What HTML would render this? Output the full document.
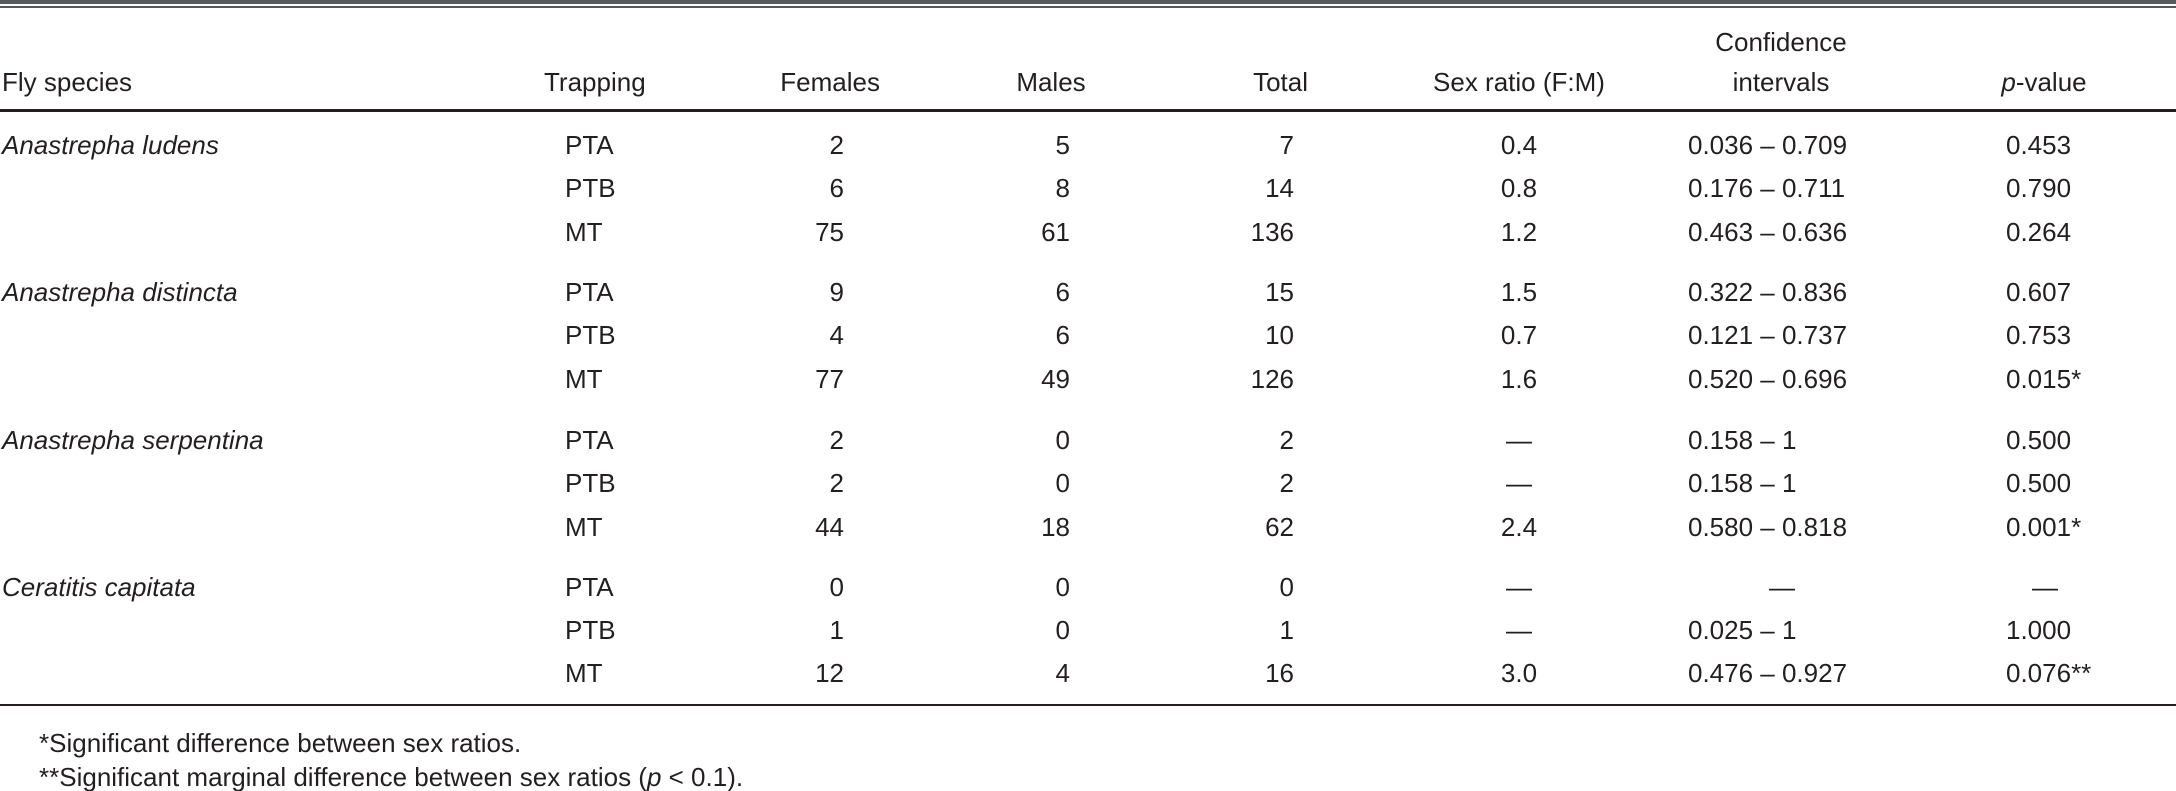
<!DOCTYPE html>
<html><head><meta charset="utf-8">
<style>
html,body{margin:0;padding:0;background:#fff;}
#t{position:relative;width:2176px;height:791px;overflow:hidden;font-family:"Liberation Sans",sans-serif;font-size:26px;color:#231f20;}
.c{position:absolute;line-height:30px;height:30px;white-space:nowrap;}
.line{position:absolute;left:0;width:2176px;}
i{font-style:italic;}
</style></head>
<body>
<div id="t">
  <div class="line" style="top:0;height:4px;background:#58595b;"></div>
  <div class="line" style="top:6px;height:2px;background:#58595b;"></div>
  <div class="line" style="top:109px;height:3px;background:#231f20;"></div>
  <div class="line" style="top:704px;height:2px;background:#231f20;"></div>

  <div class="c" style="left:2px;top:67px;">Fly species</div>
  <div class="c" style="left:544px;top:67px;">Trapping</div>
  <div class="c" style="right:1296px;top:67px;">Females</div>
  <div class="c" style="left:951px;width:200px;text-align:center;top:67px;">Males</div>
  <div class="c" style="right:868px;top:67px;">Total</div>
  <div class="c" style="left:1369px;width:300px;text-align:center;top:67px;">Sex ratio (F:M)</div>
  <div class="c" style="left:1631px;width:300px;text-align:center;top:27px;">Confidence</div>
  <div class="c" style="left:1631px;width:300px;text-align:center;top:67px;">intervals</div>
  <div class="c" style="left:1894px;width:300px;text-align:center;top:67px;"><i>p</i>-value</div>

  <div class="c" style="left:39px;top:728px;">*Significant difference between sex ratios.</div>
  <div class="c" style="left:39px;top:762px;">**Significant marginal difference between sex ratios (<i>p</i> &lt; 0.1).</div>
</div>
<script>
const species = ["Anastrepha ludens","Anastrepha distincta","Anastrepha serpentina","Ceratitis capitata"];
const trapping = ["PTA","PTB","MT"];
const females = [2,6,75, 9,4,77, 2,2,44, 0,1,12];
const males = [5,8,61, 6,6,49, 0,0,18, 0,0,4];
const totals = [7,14,136, 15,10,126, 2,2,62, 0,1,16];
const sexRatio = ["0.4","0.8","1.2","1.5","0.7","1.6","—","—","2.4","—","—","3.0"];
const ci = ["0.036 – 0.709","0.176 – 0.711","0.463 – 0.636","0.322 – 0.836","0.121 – 0.737","0.520 – 0.696","0.158 – 1","0.158 – 1","0.580 – 0.818","—","0.025 – 1","0.476 – 0.927"];
const pval = ["0.453","0.790","0.264","0.607","0.753","0.015*","0.500","0.500","0.001*","—","1.000","0.076**"];
const rowY = [145,188,232, 292,335,379, 440,483,527, 587,630,673];

const t = document.getElementById('t');
function cell(text, style, name){
  const d = document.createElement('div');
  d.className = 'c';
  
  
  d.style.cssText = style;
  d.innerHTML = text;
  t.appendChild(d);
}
for(let i=0;i<12;i++){
  const top = (rowY[i]-15)+'px';
  if(i%3===0) cell('<i>'+species[i/3]+'</i>', 'left:2px;top:'+top, 'species-name');
  cell(trapping[i%3], 'left:565px;top:'+top, 'trapping-cell');
  cell(String(females[i]), 'right:'+(2176-844)+'px;top:'+top, 'females-cell');
  cell(String(males[i]), 'right:'+(2176-1070)+'px;top:'+top, 'males-cell');
  cell(String(totals[i]), 'right:'+(2176-1294)+'px;top:'+top, 'total-cell');
  cell(sexRatio[i], 'left:1419px;width:200px;text-align:center;top:'+top, 'sex-ratio-cell');
  if(ci[i]==='—') cell(ci[i], 'left:1682px;width:200px;text-align:center;top:'+top, 'ci-cell');
  else cell(ci[i], 'left:1688px;top:'+top, 'ci-cell');
  if(pval[i]==='—') cell(pval[i], 'left:1945px;width:200px;text-align:center;top:'+top, 'p-value-cell');
  else cell(pval[i], 'left:2006px;top:'+top, 'p-value-cell');
}
</script>
</body></html>
